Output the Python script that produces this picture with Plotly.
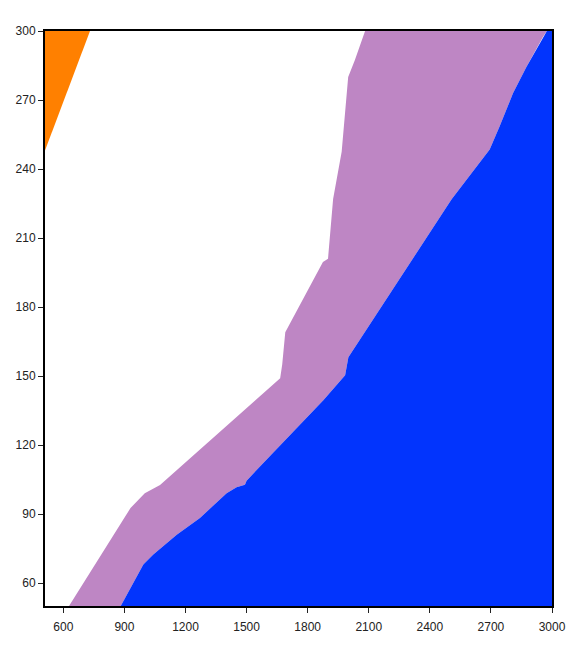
import plotly.graph_objects as go

# Axis limits
X_MIN, X_MAX = 510, 3000
Y_MIN, Y_MAX = 50, 300
x_ticks = [600, 900, 1200, 1500, 1800, 2100, 2400, 2700, 3000]
y_ticks = [60, 90, 120, 150, 180, 210, 240, 270, 300]

# Orange region boundary (top-left corner)
orange_edge_x = [510, 731]
orange_edge_y = [248, 300]

# Left (upper) boundary of the purple band, bottom -> top
purple_edge_x = [628, 930, 1000, 1030, 1075, 1665, 1675, 1690, 1875, 1900, 1925, 1967, 1999, 2032, 2082]
purple_edge_y = [50, 92.6, 99, 100.5, 102.6, 149, 155, 169, 199.6, 201, 227, 247.5, 280, 287.4, 300]

# Upper boundary of the blue region, bottom -> top
blue_edge_x = [882, 993, 1042, 1157, 1271, 1402, 1451, 1492, 1500, 1877, 1984, 2000, 2507, 2694, 2743, 2809, 2875, 2956, 2975]
blue_edge_y = [50, 68, 72.4, 81, 88.3, 99, 101.6, 102.7, 104.5, 139.5, 150.3, 158.2, 226.8, 248.5, 258.6, 273, 284.5, 297.5, 300]

ORANGE = "rgb(255,128,0)"
PURPLE = "rgb(190,134,196)"
BLUE = "rgb(2,52,253)"

fig = go.Figure()

# orange polygon
ox = orange_edge_x + [X_MIN]
oy = orange_edge_y + [Y_MAX]
fig.add_trace(go.Scatter(x=ox, y=oy, fill="toself", fillcolor=ORANGE, mode="lines",
                         line=dict(width=0, color=ORANGE), hoverinfo="skip", showlegend=False))

# purple band polygon
px = purple_edge_x + blue_edge_x[::-1]
py = purple_edge_y + blue_edge_y[::-1]
fig.add_trace(go.Scatter(x=px, y=py, fill="toself", fillcolor=PURPLE, mode="lines",
                         line=dict(width=0, color=PURPLE), hoverinfo="skip", showlegend=False))

# blue polygon
bx = blue_edge_x + [X_MAX, X_MAX]
by = blue_edge_y + [Y_MAX, Y_MIN]
fig.add_trace(go.Scatter(x=bx, y=by, fill="toself", fillcolor=BLUE, mode="lines",
                         line=dict(width=0, color=BLUE), hoverinfo="skip", showlegend=False))

axis_common = dict(
    showgrid=False, zeroline=False, showline=True, linecolor="black", linewidth=2,
    mirror=True, ticks="outside", ticklen=5, tickwidth=1, tickcolor="#222",
    automargin=False,
    tickfont=dict(family="Liberation Sans, Arial, sans-serif", size=12, color="#222"),
)

fig.update_xaxes(range=[X_MIN, X_MAX], tickvals=x_ticks, ticktext=[str(v) for v in x_ticks],
                 ticklabelstandoff=4, **axis_common)
fig.update_yaxes(range=[Y_MIN, Y_MAX], tickvals=y_ticks, ticktext=[str(v) for v in y_ticks], **axis_common)

fig.update_layout(
    width=562, height=647,
    margin=dict(l=37, r=18, t=23, b=49),
    paper_bgcolor="white", plot_bgcolor="white",
    showlegend=False,
)

fig.write_html("out.html")
